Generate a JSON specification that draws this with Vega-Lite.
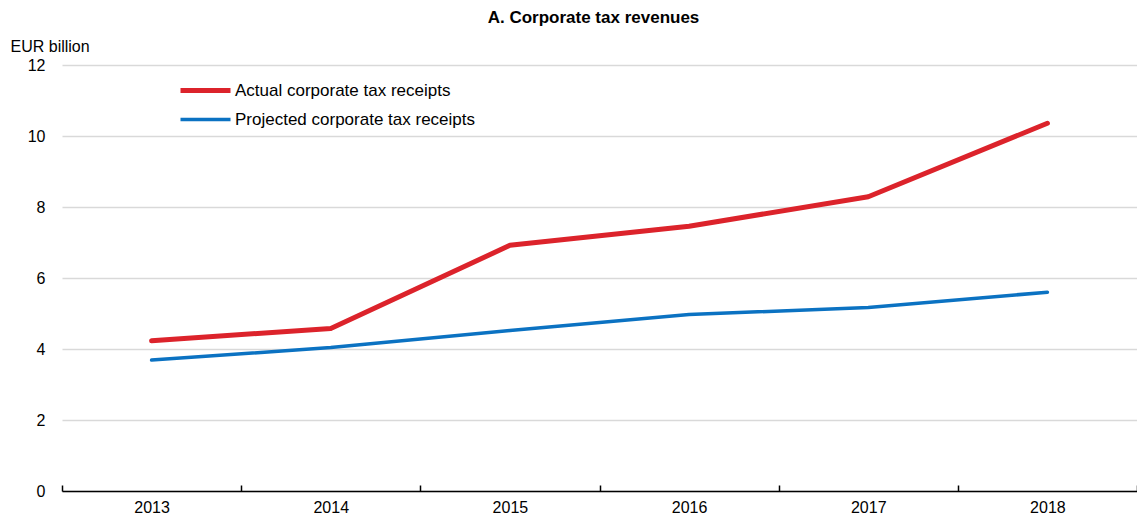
{
  "$schema": "https://vega.github.io/schema/vega-lite/v6.json",
  "width": 1075,
  "height": 426,
  "autosize": "none",
  "padding": {"left": 62, "top": 65, "right": 0, "bottom": 28},
  "background": "white",
  "config": {
    "font": "Liberation Sans",
    "view": {"stroke": null}
  },
  "title": {
    "text": "A. Corporate tax revenues",
    "font": "Liberation Sans",
    "fontSize": 17,
    "fontWeight": "bold",
    "color": "black",
    "anchor": "middle",
    "dx": -6,
    "offset": 11
  },
  "data": {
    "values": [
      {"year": "2013", "series": "Actual corporate tax receipts", "value": 4.23},
      {"year": "2014", "series": "Actual corporate tax receipts", "value": 4.58},
      {"year": "2015", "series": "Actual corporate tax receipts", "value": 6.92},
      {"year": "2016", "series": "Actual corporate tax receipts", "value": 7.46},
      {"year": "2017", "series": "Actual corporate tax receipts", "value": 8.29},
      {"year": "2018", "series": "Actual corporate tax receipts", "value": 10.36},
      {"year": "2013", "series": "Projected corporate tax receipts", "value": 3.69},
      {"year": "2014", "series": "Projected corporate tax receipts", "value": 4.04},
      {"year": "2015", "series": "Projected corporate tax receipts", "value": 4.52},
      {"year": "2016", "series": "Projected corporate tax receipts", "value": 4.97},
      {"year": "2017", "series": "Projected corporate tax receipts", "value": 5.17},
      {"year": "2018", "series": "Projected corporate tax receipts", "value": 5.60}
    ]
  },
  "mark": {"type": "line", "strokeCap": "round", "strokeJoin": "round"},
  "encoding": {
    "x": {
      "field": "year",
      "type": "ordinal",
      "scale": {"type": "band", "paddingInner": 0, "paddingOuter": 0},
      "axis": {
        "title": null,
        "labelAngle": 0,
        "labelFontSize": 16,
        "labelColor": "black",
        "labelPadding": 14,
        "domainColor": "black",
        "domainWidth": 1.5,
        "tickColor": "black",
        "tickWidth": 1.5,
        "tickSize": -6,
        "tickBand": "extent",
        "grid": false
      }
    },
    "y": {
      "field": "value",
      "type": "quantitative",
      "scale": {"domain": [0, 12]},
      "axis": {
        "values": [0, 2, 4, 6, 8, 10, 12],
        "title": "EUR billion",
        "titleAngle": 0,
        "titleAlign": "left",
        "titleBaseline": "middle",
        "titleFontSize": 16,
        "titleFontWeight": "normal",
        "titleColor": "black",
        "titleX": -52,
        "titleY": -19,
        "labelFontSize": 16,
        "labelColor": "black",
        "labelPadding": 17,
        "domain": false,
        "ticks": false,
        "grid": true,
        "gridColor": "#d9d9d9",
        "gridWidth": 1.5
      }
    },
    "color": {
      "field": "series",
      "type": "nominal",
      "scale": {"range": ["#dc232b", "#0b72c2"]},
      "legend": {
        "title": null,
        "orient": "none",
        "legendX": 116,
        "legendY": 11,
        "symbolType": "stroke",
        "symbolSize": 2500,
        "labelFontSize": 17,
        "labelColor": "black",
        "labelOffset": 2,
        "labelLimit": 400,
        "clipHeight": 29,
        "rowPadding": 0,
        "symbolStrokeWidth": 5
      }
    },
    "strokeWidth": {
      "field": "series",
      "type": "nominal",
      "scale": {"range": [5, 3.5]},
      "legend": null
    }
  }
}
